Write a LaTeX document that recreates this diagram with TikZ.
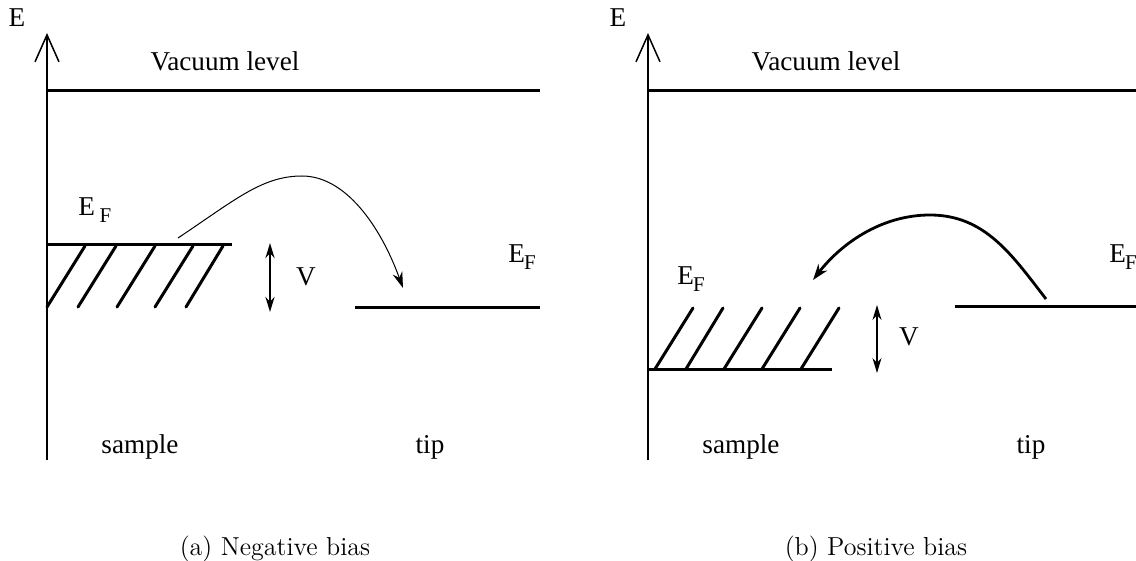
\documentclass[tikz,border=0pt]{standalone}
\usepackage{fontspec}
\newfontfamily\tms{Liberation Serif}
\usetikzlibrary{arrows.meta}
\newcommand{\sub}[1]{\raisebox{-0.5ex}{\fontsize{10.5}{11}\selectfont #1}}
\tikzset{
  lbl/.style={font=\tms\fontsize{13.6}{15}\selectfont, inner sep=0pt},
  captext/.style={font=\fontsize{13}{15}\selectfont, inner sep=0pt, anchor=base},
  axis/.style={line width=0.75pt, -{Straight Barb[length=13.5pt,width=12pt,line width=0.75pt]}},
  level/.style={line width=1.5pt},
  hatch/.style={line width=1.5pt, line cap=round},
  thinarc/.style={line width=0.5pt, -{Stealth[length=8pt,width=5pt]}},
  thickarc/.style={line width=1.4pt, -{Stealth[length=8pt,width=5.5pt]}},
  vthick/.style={line width=1.4pt, {Stealth[length=7.5pt,width=4.5pt]}-{Stealth[length=7.5pt,width=4.5pt]}},
  vthin/.style={line width=0.6pt, {Stealth[length=7.5pt,width=4.5pt]}-{Stealth[length=7.5pt,width=4.5pt]}}
}
\begin{document}
\begin{tikzpicture}[x=0.5pt,y=-0.5pt]
\useasboundingbox (0,0) rectangle (1136,561);
% ---------- panel (a)
\coordinate (a0) at (47,460);
\coordinate (a1) at (47,33);
\draw[axis] (a0) -- (a1);
\node[lbl] (aE) at (17,18) {E};
\coordinate (avl0) at (47,91); \coordinate (avl1) at (540,91);
\draw[level] (avl0) -- (avl1);
\node[lbl] (avt) at (225,61) {Vacuum level};
\coordinate (as0) at (47,245); \coordinate (as1) at (232,245);
\draw[level] (as0) -- (as1);
\foreach \b/\t in {47/85,78/116,117/155,155/193,186/223}
  \draw[hatch] (\b,307) -- (\t,246);
\node[lbl,anchor=base west] (aEF) at (78,216) {E\,\sub{F}};
\coordinate (av0) at (270,243); \coordinate (av1) at (270,312);
\draw[vthick] (av0) -- (av1);
\node[lbl] (aV) at (306,277) {V};
\coordinate (at0) at (355,308); \coordinate (at1) at (540,308);
\draw[level] (at0) -- (at1);
\node[lbl,anchor=base west] (aEF2) at (508,263) {E\kern-0.5pt\sub{F}};
\coordinate (ac0) at (178,238); \coordinate (acp) at (302,176); \coordinate (ac1) at (403,288);
\draw[thinarc] (ac0) .. controls (235,200) and (262,176) .. (acp) .. controls (345,176) and (380,225) .. (ac1);
\node[lbl] (asam) at (140,447) {sample};
\node[lbl] (atip) at (430,447) {tip};
\node[captext] (acap) at (275,555) {(a) Negative bias};
% ---------- panel (b)
\coordinate (b0) at (648,460);
\coordinate (b1) at (648,33);
\draw[axis] (b0) -- (b1);
\node[lbl] (bE) at (618,18) {E};
\coordinate (bvl0) at (648,91); \coordinate (bvl1) at (1136,91);
\draw[level] (bvl0) -- (bvl1);
\node[lbl] (bvt) at (826,61) {Vacuum level};
\coordinate (bs0) at (648,370); \coordinate (bs1) at (832,370);
\draw[level] (bs0) -- (bs1);
\foreach \b/\t in {655/693,686/723,724/762,762/800,801/839}
  \draw[hatch] (\b,369) -- (\t,308);
\node[lbl,anchor=base west] (bEF) at (677,285) {E\kern-0.5pt\sub{F}};
\coordinate (bv0) at (877,305); \coordinate (bv1) at (877,373);
\draw[vthin] (bv0) -- (bv1);
\node[lbl] (bV) at (909,337) {V};
\coordinate (bt0) at (955,307); \coordinate (bt1) at (1136,307);
\draw[level] (bt0) -- (bt1);
\node[lbl,anchor=base west] (bEF2) at (1109,263) {E\kern-0.5pt\sub{F}};
\coordinate (bc0) at (1046,299); \coordinate (bcp) at (930,215); \coordinate (bc1) at (813,280);
\draw[thickarc] (bc0) .. controls (1012,255) and (985,215) .. (bcp) .. controls (880,215) and (840,245) .. (bc1);
\node[lbl] (bsam) at (741,447) {sample};
\node[lbl] (btip) at (1031,447) {tip};
\node[captext] (bcap) at (876,555) {(b) Positive bias};
\end{tikzpicture}
\end{document}
